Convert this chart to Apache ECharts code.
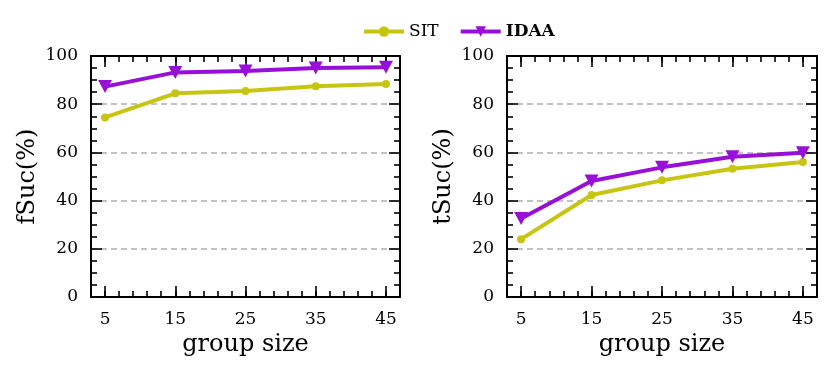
<!DOCTYPE html>
<html>
<head>
<meta charset="utf-8">
<script src="https://cdn.jsdelivr.net/npm/echarts@6/dist/echarts.min.js"></script>
<style>html,body{margin:0;padding:0;background:#fff}#c{width:831px;height:366px}</style>
</head>
<body>
<div id="c"></div>
<script>
const groupSizes = [5, 15, 25, 35, 45];
const xTickLabels = [5, 15, 25, 35, 45];
const fSucSIT = [74.5, 84.5, 85.5, 87.4, 88.4];
const fSucIDAA = [87.3, 93.2, 93.8, 95.0, 95.3];
const tSucSIT = [24.0, 42.3, 48.4, 53.2, 56.0];
const tSucIDAA = [32.6, 48.1, 53.8, 58.2, 59.9];
const seriesNames = ['SIT', 'IDAA'];
const yNames = ['fSuc(%)', 'tSuc(%)'];
const xName = 'group size';

const FONT = 'DejaVu Serif';
const C_SIT = '#c6c612';
const C_IDAA = '#9810d8';

const chart = echarts.init(document.getElementById('c'));

const grids = [
  {left: 91, top: 56, width: 309, height: 241},
  {left: 507, top: 56, width: 310, height: 241}
];

const xAxes = [], yAxes = [], series = [];
const tickLine = {color: '#000', width: 1.6};
grids.forEach((g, gi) => {
  const base = xAxes.length;
  xAxes.push({
    gridIndex: gi, type: 'value', min: 3, max: 47, interval: 2, position: 'bottom',
    axisLine: {show: true, lineStyle: {color: '#000', width: 2}},
    axisTick: {show: true, inside: true, length: 6, lineStyle: tickLine},
    axisLabel: {show: true, margin: 14, color: '#000', fontFamily: FONT, fontSize: 17,
      formatter: v => (xTickLabels.indexOf(v) >= 0 ? String(v) : '')},
    splitLine: {show: false},
    name: xName, nameLocation: 'middle', nameGap: 29,
    nameTextStyle: {color: '#000', fontFamily: FONT, fontSize: 24}
  });
  xAxes.push({
    gridIndex: gi, type: 'value', min: 3, max: 47, position: 'bottom',
    axisLine: {show: false},
    axisTick: {show: true, inside: true, length: 11, customValues: xTickLabels, lineStyle: tickLine},
    axisLabel: {show: false}, splitLine: {show: false}
  });
  xAxes.push({
    gridIndex: gi, type: 'value', min: 3, max: 47, interval: 2, position: 'top',
    axisLine: {show: true, lineStyle: {color: '#000', width: 2}},
    axisTick: {show: true, inside: true, length: 6, lineStyle: tickLine},
    axisLabel: {show: false}, splitLine: {show: false}
  });
  xAxes.push({
    gridIndex: gi, type: 'value', min: 3, max: 47, position: 'top',
    axisLine: {show: false},
    axisTick: {show: true, inside: true, length: 11, customValues: xTickLabels, lineStyle: tickLine},
    axisLabel: {show: false}, splitLine: {show: false}
  });
  const ybase = yAxes.length;
  yAxes.push({
    gridIndex: gi, type: 'value', min: 0, max: 100, interval: 20, position: 'left',
    axisLine: {show: true, lineStyle: {color: '#000', width: 2}},
    axisTick: {show: true, inside: true, length: 11, lineStyle: tickLine},
    minorTick: {show: true, splitNumber: 4, length: 6, lineStyle: tickLine},
    axisLabel: {show: true, margin: 13, color: '#000', fontFamily: FONT, fontSize: 17},
    splitLine: {show: true, lineStyle: {color: '#b0b0b0', width: 1.6, type: [6, 4]}},
    name: yNames[gi], nameLocation: 'middle', nameGap: 51,
    nameTextStyle: {color: '#000', fontFamily: FONT, fontSize: 24}
  });
  yAxes.push({
    gridIndex: gi, type: 'value', min: 0, max: 100, interval: 20, position: 'right',
    axisLine: {show: true, lineStyle: {color: '#000', width: 2}},
    axisTick: {show: true, inside: true, length: 11, lineStyle: tickLine},
    minorTick: {show: true, splitNumber: 4, length: 6, lineStyle: tickLine},
    axisLabel: {show: false}, splitLine: {show: false}
  });
  const sit = gi === 0 ? fSucSIT : tSucSIT;
  const idaa = gi === 0 ? fSucIDAA : tSucIDAA;
  series.push({
    name: seriesNames[0], type: 'line', xAxisIndex: base, yAxisIndex: ybase,
    data: groupSizes.map((x, i) => [x, sit[i]]),
    symbol: 'circle', symbolSize: 8, color: C_SIT,
    lineStyle: {width: 4, color: C_SIT}, itemStyle: {color: C_SIT},
    z: 3, animation: false
  });
  series.push({
    name: seriesNames[1], type: 'line', xAxisIndex: base, yAxisIndex: ybase,
    data: groupSizes.map((x, i) => [x, idaa[i]]),
    symbol: 'triangle', symbolRotate: 180, symbolSize: [14, 13], color: C_IDAA,
    lineStyle: {width: 4, color: C_IDAA}, itemStyle: {color: C_IDAA},
    z: 4, animation: false
  });
});

chart.setOption({
  animation: false,
  backgroundColor: '#fff',
  grid: grids.map(g => Object.assign({containLabel: false}, g)),
  legend: {
    left: 357, top: 18, itemWidth: 40, itemHeight: 13, itemGap: 20,
    lineStyle: {width: 4},
    textStyle: {fontFamily: FONT, fontSize: 17, color: '#000'},
    data: [
      {name: 'SIT', textStyle: {fontWeight: 'normal'}},
      {name: 'IDAA', textStyle: {fontWeight: 'bold'}}
    ]
  },
  xAxis: xAxes,
  yAxis: yAxes,
  series: series
});
</script>
</body>
</html>
